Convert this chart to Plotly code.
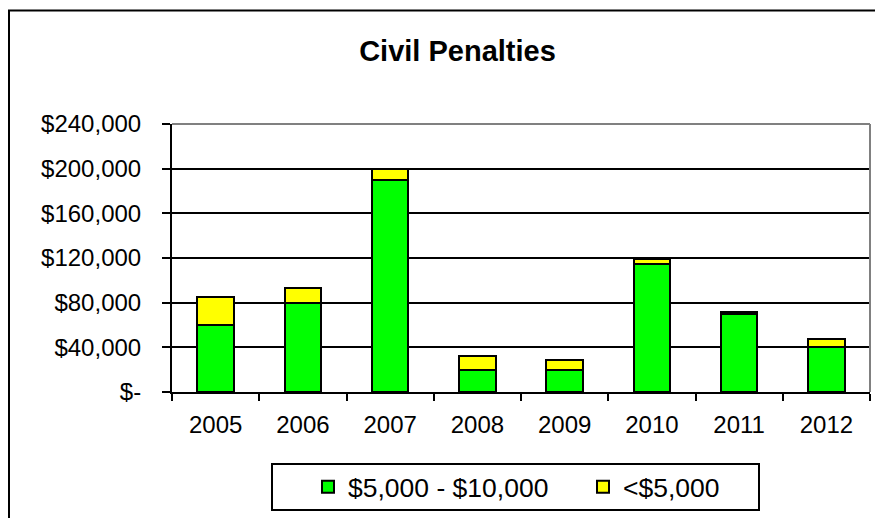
import plotly.graph_objects as go

years = ["2005", "2006", "2007", "2008", "2009", "2010", "2011", "2012"]
mid_range = [60000, 80000, 190000, 20000, 20000, 115000, 70000, 40000]
low_range = [25000, 13500, 9500, 12000, 9000, 4000, 1500, 7500]
y_ticks = [0, 40000, 80000, 120000, 160000, 200000, 240000]
y_tick_text = ["$-", "$40,000", "$80,000", "$120,000", "$160,000", "$200,000", "$240,000"]

FONT = "Liberation Sans, Arial, sans-serif"

fig = go.Figure()
fig.add_trace(go.Bar(x=years, y=mid_range, name="$5,000 - $10,000",
                     marker=dict(color="#00FF00", line=dict(color="black", width=2))))
fig.add_trace(go.Bar(x=years, y=low_range, name="<$5,000",
                     marker=dict(color="#FFFF00", line=dict(color="black", width=2))))

# page has an 8px body margin; figure coordinates = page coordinates - 8
W, H = 875, 510
L, T = 164, 116
PR, PB = 862, 384
R, B = W - PR, H - PB
pw, ph = PR - L, PB - T

def px(x):
    return (x - L) / pw

def py(y):
    return (PB - y) / ph

fig.update_layout(
    width=W, height=H,
    margin=dict(l=L, r=R, t=T, b=B, autoexpand=False),
    barmode="stack", bargap=0.58,
    paper_bgcolor="white", plot_bgcolor="white",
    font=dict(family=FONT, color="black", size=23),
    title=dict(text="<b>Civil Penalties</b>", x=449.5 / W, xanchor="center",
               y=1 - 43 / H, yanchor="middle", yref="container",
               font=dict(family=FONT, size=29, color="black")),
    xaxis=dict(showline=True, linecolor="black", linewidth=2,
               ticks="outside", tickson="boundaries", ticklen=7, tickwidth=2, tickcolor="black",
               showgrid=False, ticklabelstandoff=10,
               tickfont=dict(size=24)),
    yaxis=dict(range=[0, 240000], tickvals=y_ticks, ticktext=y_tick_text,
               showline=True, linecolor="black", linewidth=2,
               ticks="outside", ticklen=8, tickwidth=2, tickcolor="black",
               showgrid=True, gridcolor="black", gridwidth=1.5,
               zeroline=False, ticklabelstandoff=16,
               tickfont=dict(size=24)),
    showlegend=True,
    legend=dict(orientation="h", xref="container", yref="container",
                x=300 / W, xanchor="left", y=1 - 479 / H, yanchor="middle",
                font=dict(family=FONT, size=26.5, color="black"),
                bgcolor="rgba(0,0,0,0)", borderwidth=0, itemwidth=30,
                traceorder="normal", entrywidth=230),
    shapes=[
        dict(type="line", xref="paper", yref="paper", x0=0, x1=1, y0=1, y1=1,
             line=dict(color="#808080", width=2), layer="above"),
        dict(type="line", xref="paper", yref="paper", x0=1, x1=1, y0=0, y1=1,
             line=dict(color="#808080", width=2), layer="above"),
        dict(type="rect", xref="paper", yref="paper", x0=px(264), x1=px(751),
             y0=py(502), y1=py(456), line=dict(color="black", width=2)),
        dict(type="rect", xref="paper", yref="paper", x0=px(1), x1=px(900),
             y0=py(540), y1=py(2.5), line=dict(color="black", width=2)),
    ],
)

fig.write_html("out.html")
